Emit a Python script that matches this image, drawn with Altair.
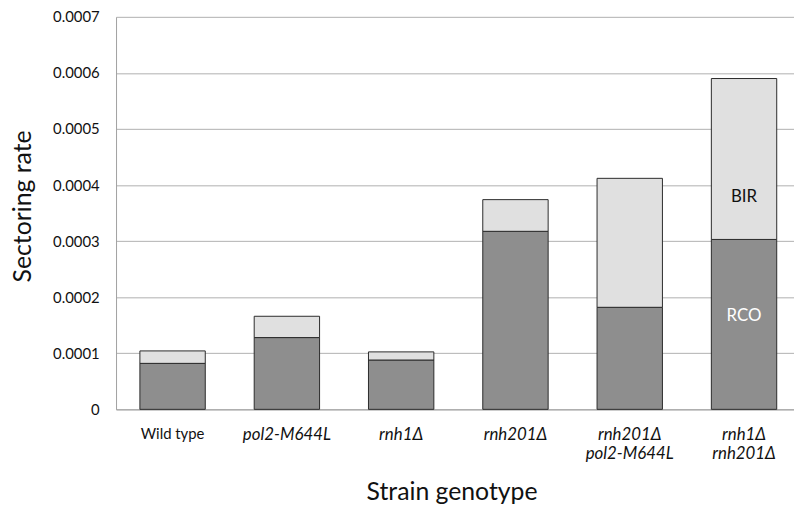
import altair as alt
import pandas as pd

strains = ["Wild type", "pol2-M644L", "rnh1Δ", "rnh201Δ", "rnh201Δ\npol2-M644L", "rnh1Δ\nrnh201Δ"]
rco = [0.000082, 0.000128, 0.000088, 0.0003175, 0.000182, 0.000303]
bir = [0.0000222, 0.000038, 0.0000145, 0.0000565, 0.00023, 0.000287]
components = ["RCO", "BIR"]
comp_colors = ["#8e8e8e", "#e0e0e0"]
y_ticks = [0, 0.0001, 0.0002, 0.0003, 0.0004, 0.0005, 0.0006, 0.0007]

ann_strain = ["rnh1Δ\nrnh201Δ", "rnh1Δ\nrnh201Δ"]
ann_text = ["BIR", "RCO"]
ann_y = [0.000378, 0.000166]
ann_color = ["#111111", "#ffffff"]

rows = []
for s, r, b in zip(strains, rco, bir):
    rows.append({"strain": s, "component": "RCO", "ord": 0, "value": r})
    rows.append({"strain": s, "component": "BIR", "ord": 1, "value": b})
df = pd.DataFrame(rows)
ann = pd.DataFrame({"strain": ann_strain, "text": ann_text, "y": ann_y, "c": ann_color})

FONT = "Lato"

x_enc = alt.X(
    "strain:N",
    sort=strains,
    scale=alt.Scale(paddingInner=0.428, paddingOuter=0.18, align=0.58),
    axis=alt.Axis(
        title="Strain genotype",
        titleFont=FONT, titleFontSize=25, titleFontWeight="normal", titleColor="#111111",
        titleX=338.5, titleY=91, titleAlign="center", titleBaseline="alphabetic", titleAnchor="start",
        labelAngle=0, labelFont=FONT, labelColor="#111111",
        labelFontSize={"condition": {"test": "datum.value == 'Wild type'", "value": 15}, "value": 17},
        labelExpr="split(datum.value, '\\n')", labelLineHeight=20,
        labelBaseline="top", labelPadding=17,
        labelFontStyle={"condition": {"test": "datum.value == 'Wild type'", "value": "normal"}, "value": "italic"},
        ticks=False, domainColor="#a0a0a0", domainWidth=1, grid=False,
    ),
)

bars = alt.Chart(df).mark_bar(stroke="#2a2a2a", strokeWidth=1).encode(
    x=x_enc,
    y=alt.Y(
        "value:Q", stack="zero",
        scale=alt.Scale(domain=[0, 0.0007], nice=False),
        axis=alt.Axis(
            title="Sectoring rate",
            values=y_ticks,
            labelExpr="datum.value == 0 ? '0' : format(datum.value, '.4f')",
            titleFont=FONT, titleFontSize=25, titleFontWeight="normal", titleColor="#111111",
            titleX=-86, titleY=190.8, titleAngle=270, titleAlign="center", titleBaseline="alphabetic",
            titleAnchor="start",
            labelFont=FONT, labelFontSize=15, labelColor="#111111", labelPadding=17,
            ticks=False, domainColor="#a0a0a0", domainWidth=1,
            grid=True, gridColor="#b0b0b0", gridWidth=1,
        ),
    ),
    color=alt.Color("component:N", scale=alt.Scale(domain=components, range=comp_colors), legend=None),
    order=alt.Order("ord:Q"),
)

labels = alt.Chart(ann).mark_text(font=FONT, fontSize=17, baseline="middle", align="center").encode(
    x=alt.X("strain:N", sort=strains),
    y=alt.Y("y:Q"),
    text="text:N",
    color=alt.Color("c:N", scale=None),
)

chart = alt.layer(bars, labels).properties(
    width=684, height=396,
    autosize=alt.AutoSizeParams(type="none"),
    padding={"left": 109, "top": 6.7, "right": 0, "bottom": 98},
    background="white",
).configure_view(stroke=None)

chart.save("out.html", embed_options={"renderer": "svg", "actions": False})
